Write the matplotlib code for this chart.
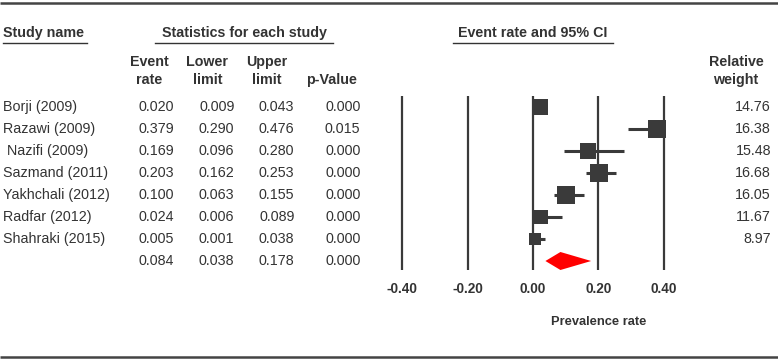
import matplotlib
matplotlib.use("Agg")
import matplotlib.pyplot as plt
from matplotlib.patches import Polygon

plt.rcParams['font.family'] = ['Liberation Sans', 'DejaVu Sans']

studies = ["Borji (2009)", "Razawi (2009)", " Nazifi (2009)", "Sazmand (2011)",
           "Yakhchali (2012)", "Radfar (2012)", "Shahraki (2015)"]
event_rate = [0.020, 0.379, 0.169, 0.203, 0.100, 0.024, 0.005]
lower = [0.009, 0.290, 0.096, 0.162, 0.063, 0.006, 0.001]
upper = [0.043, 0.476, 0.280, 0.253, 0.155, 0.089, 0.038]
p_value = [0.000, 0.015, 0.000, 0.000, 0.000, 0.000, 0.000]
weights = [14.76, 16.38, 15.48, 16.68, 16.05, 11.67, 8.97]
summary = {"rate": 0.084, "lower": 0.038, "upper": 0.178, "p": 0.000}
ticks = [-0.40, -0.20, 0.00, 0.20, 0.40]

W, H = 778, 360
DPI = 100
fig = plt.figure(figsize=(W / DPI, H / DPI), dpi=DPI)
fig.patch.set_facecolor("white")

TXT = "#333333"
MARK = "#3a3a3a"
FS = 10.3

# overlay axes in pixel coords for table text and rules
tab = fig.add_axes([0, 0, 1, 1])
tab.set_xlim(0, W)
tab.set_ylim(H, 0)
tab.axis("off")

# horizontal rules
tab.plot([0, W], [3, 3], color="#444444", lw=1.8, solid_capstyle="butt")
tab.plot([0, W], [357, 357], color="#444444", lw=1.8, solid_capstyle="butt")

# group headers with underline
tab.text(3, 33, "Study name", ha="left", va="center", fontsize=FS, fontweight="bold", color=TXT)
tab.plot([3, 87], [42.5, 42.5], color=TXT, lw=1.0)
tab.text(244, 33, "Statistics for each study", ha="center", va="center", fontsize=FS, fontweight="bold", color=TXT)
tab.plot([155, 333], [42.5, 42.5], color=TXT, lw=1.0)
tab.text(533, 33, "Event rate and 95% CI", ha="center", va="center", fontsize=FS, fontweight="bold", color=TXT)
tab.plot([453, 613], [42.5, 42.5], color=TXT, lw=1.0)

# column headers
col_heads = [("Event", "rate", 149), ("Lower", "limit", 207.5), ("Upper", "limit", 266.5),
             ("", "p-Value", 331), ("Relative", "weight", 736)]
for l1, l2, cx in col_heads:
    if l1:
        tab.text(cx, 62, l1, ha="center", va="center", fontsize=FS, fontweight="bold", color=TXT)
    tab.text(cx, 80, l2, ha="center", va="center", fontsize=FS, fontweight="bold", color=TXT)

# rows
row_y0, row_dy = 107, 22
col_right = [174, 234.5, 294.5, 360.5]
for i, name in enumerate(studies):
    y = row_y0 + i * row_dy
    tab.text(3, y, name, ha="left", va="center", fontsize=FS, color=TXT)
    vals = [event_rate[i], lower[i], upper[i], p_value[i]]
    for xr, v in zip(col_right, vals):
        tab.text(xr, y, f"{v:.3f}", ha="right", va="center", fontsize=FS, color=TXT)
    tab.text(771, y, f"{weights[i]:.2f}", ha="right", va="center", fontsize=FS, color=TXT)
ys = row_y0 + len(studies) * row_dy
for xr, v in zip(col_right, [summary["rate"], summary["lower"], summary["upper"], summary["p"]]):
    tab.text(xr, ys, f"{v:.3f}", ha="right", va="center", fontsize=FS, color=TXT)

# forest axes
px_per_unit = 65.33 / 0.2
x0_px = 533
ax_left, ax_right, ax_top, ax_bot = 380, 700, 90, 300
ax = fig.add_axes([ax_left / W, 1 - ax_bot / H, (ax_right - ax_left) / W, (ax_bot - ax_top) / H])
ax.set_xlim((ax_left - x0_px) / px_per_unit, (ax_right - x0_px) / px_per_unit)
ax.set_ylim((ax_bot - row_y0) / row_dy, (ax_top - row_y0) / row_dy)
ax.axis("off")
ax.patch.set_alpha(0)

ax.vlines(ticks, -0.5, 7.42, color=MARK, lw=1.6)
for t in ticks:
    ax.text(t, (289 - row_y0) / row_dy, f"{t:.2f}", ha="center", va="center",
            fontsize=9.8, fontweight="bold", color=TXT)
ax.text(0.20, (322 - row_y0) / row_dy, "Prevalence rate", ha="center", va="center",
        fontsize=9.3, fontweight="bold", color=TXT, clip_on=False)

xmin, xmax = min(ticks), max(ticks)
wmax = max(weights)
for i in range(len(studies)):
    lo = max(lower[i], xmin)
    hi = min(upper[i], xmax)
    ax.plot([lo, hi], [i, i], color=MARK, lw=2.2, solid_capstyle="butt")
    side_px = 17.5 * (weights[i] / wmax) ** 0.5
    ax.plot(event_rate[i], i, marker="s", markersize=side_px * 0.72, color=MARK,
            markeredgewidth=0, linestyle="none")

n = len(studies)
hh = 9 / row_dy
diamond = Polygon([[summary["lower"], n], [summary["rate"], n - hh],
                   [summary["upper"], n], [summary["rate"], n + hh]],
                  closed=True, facecolor="#ff0000", edgecolor="none")
ax.add_patch(diamond)

fig.savefig("out.png", dpi=DPI, facecolor="white")
